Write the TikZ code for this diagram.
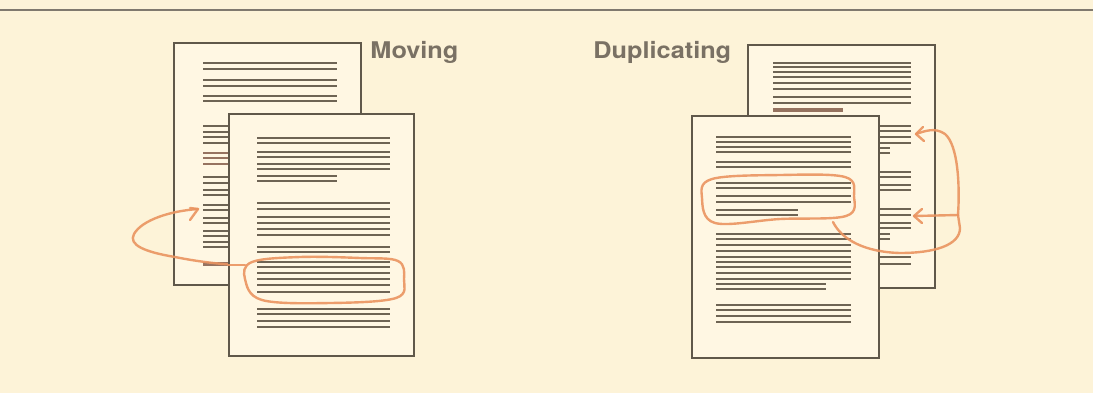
\documentclass[tikz,border=0pt]{standalone}
\usepackage{fontspec}
\setmainfont{TeX Gyre Heros}
\definecolor{bgc}{RGB}{253,243,216}
\definecolor{pagefill}{RGB}{255,247,227}
\definecolor{ink}{RGB}{96,88,74}
\definecolor{txtline}{RGB}{110,100,84}
\definecolor{heavy}{RGB}{150,115,96}
\definecolor{pen}{RGB}{234,148,96}
\definecolor{labelc}{RGB}{122,113,100}
\tikzset{
  pagebox/.style={draw=ink, fill=pagefill, line width=0.8pt},
  tline/.style={draw=txtline, line width=1pt},
  hline/.style={draw=heavy, line width=1.4pt},
  penline/.style={draw=pen, line width=1.2pt, line cap=round, line join=round, opacity=0.9},
  lbl/.style={font=\bfseries\fontsize{11.5}{14}\selectfont, text=labelc, inner sep=0pt, xscale=1.1}
}
\begin{document}
\begin{tikzpicture}[x=0.5pt,y=-0.5pt]
\fill[bgc] (0,0) rectangle (1093,393);
\useasboundingbox (0,0) rectangle (1093,393);
% top rule
\draw[draw=ink!80, line width=0.8pt] (0,10) -- (1093,10);

% ================= Moving =================
\draw[pagebox] (174,43) rectangle (361,285);
\foreach \y in {63,69,80,86,96,101,126,132,137,143,177,183,190,195,205,210,218,223,231,236,242,247}
  \draw[tline] (203,\y) -- (337,\y);
\foreach \y in {153,158,164}
  \draw[hline] (203,\y) -- (337,\y);
\draw[draw=heavy, line width=2pt] (203,264) -- (337,264);

% orange connector behind front page
\draw[penline] (247,265) .. controls (225,265) and (200,262) .. (175,257)
  .. controls (145,252) and (128,245) .. (134,234)
  .. controls (142,220) and (170,211) .. (198,209);
\draw[penline] (190,208) -- (198,209) -- (190,220);

\draw[pagebox] (229,114) rectangle (414,356);
\foreach \y in {138,143,152,157,164,169,203,209,217,223,229,235,247,252,262,267,273,279,285,292,309,314,321,327}
  \draw[tline] (257,\y) -- (390,\y);
\foreach \y in {176,181}
  \draw[tline] (257,\y) -- (337,\y);

% ring round the moved block
\draw[penline] plot[smooth cycle, tension=0.6] coordinates {(245,279) (252,262) (300,257) (360,258) (398,261) (404,279) (396,298) (330,303) (262,300)};
\draw[penline] (245,265) -- (228,265);

\node[lbl, anchor=base west] (moving) at (370,58) {Moving};

% ================= Duplicating =================
\draw[pagebox] (748,45) rectangle (935,288);
\foreach \y in {63,67,72,77,83,89,97,103,126,131,137,143,172,177,185,190,209,215,223,228,257,264}
  \draw[tline] (773,\y) -- (911,\y);
\foreach \y in {148,153,234,239}
  \draw[tline] (773,\y) -- (890,\y);
\draw[draw=heavy, line width=2pt] (773,110) -- (843,110);

\draw[pagebox] (692,116) rectangle (879,358);
\foreach \y in {137,142,147,152,162,167,183,188,196,202,234,239,245,251,257,262,267,273,279,305,310,316,322}
  \draw[tline] (716,\y) -- (851,\y);
\foreach \y in {210,215}
  \draw[tline] (716,\y) -- (798,\y);
\foreach \y in {284,289}
  \draw[tline] (716,\y) -- (826,\y);

% ring round the copied block
\draw[penline] plot[smooth cycle, tension=0.6] coordinates {(702,198) (712,179) (780,175) (845,177) (854,196) (846,216) (780,219) (715,223)};
% tail and two arrows
\coordinate (junc) at (958,215);
\draw[penline] (833,222) .. controls (842,240) and (865,252) .. (900,253)
  .. controls (935,253) and (960,245) .. (960,228) -- (junc);
\draw[penline] (junc) -- (914,216);
\draw[penline] (922,209) -- (914,216) -- (922,223);
\draw[penline] (junc) .. controls (960,185) and (958,145) .. (945,134)
  .. controls (935,127) and (925,131) .. (916,134);
\draw[penline] (923,127) -- (916,134) -- (924,141);

\node[lbl, anchor=base west] (dup) at (593,58) {Duplicating};
\end{tikzpicture}
\end{document}
